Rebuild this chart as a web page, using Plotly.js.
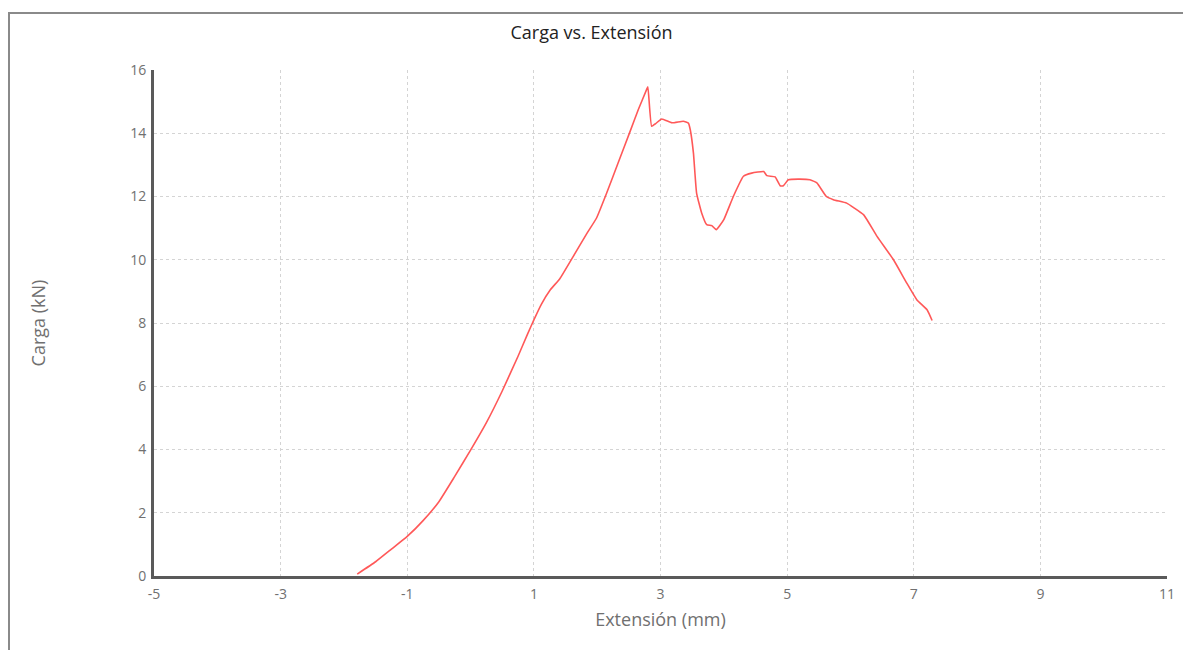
<!DOCTYPE html>
<html>
<head>
<meta charset="utf-8">
<script src="https://cdn.plot.ly/plotly-3.0.1.min.js"></script>
<style>
  html, body { margin: 0; padding: 0; background: #fff; overflow: hidden; }
  #chart { width: 1183px; height: 650px; }
  #frame { position: absolute; left: 8px; top: 12px; width: 3000px; height: 3000px;
           border: 2px solid #8a8a8a; pointer-events: none; box-sizing: border-box; }
</style>
</head>
<body>
<div id="chart"></div>
<div id="frame"></div>
<script>
const extension = [-1.79, -1.5, -1.25, -1.0, -0.75, -0.5, -0.25, 0.0, 0.25, 0.5, 0.75, 0.9, 1.0,
  1.12, 1.26, 1.41, 1.62, 1.84, 1.99, 2.15, 2.33, 2.52, 2.65, 2.78, 2.80, 2.86,
  2.92, 3.02, 3.18, 3.36, 3.44, 3.47, 3.52, 3.57, 3.65, 3.73, 3.81, 3.88, 4.0,
  4.15, 4.31, 4.44, 4.63, 4.68, 4.81, 4.89, 4.94, 5.02, 5.2, 5.36, 5.47, 5.62,
  5.73, 5.94, 6.05, 6.21, 6.42, 6.68, 6.89, 7.05, 7.21, 7.29];
const load = [0.06, 0.45, 0.85, 1.25, 1.75, 2.35, 3.15, 3.98, 4.85, 5.85, 6.95, 7.65, 8.1,
  8.6, 9.05, 9.4, 10.1, 10.84, 11.32, 12.11, 13.06, 14.06, 14.75, 15.38, 15.47, 14.22,
  14.3, 14.45, 14.33, 14.38, 14.32, 14.11, 13.38, 12.11, 11.48, 11.11, 11.08, 10.95, 11.27,
  12.0, 12.64, 12.74, 12.79, 12.66, 12.62, 12.34, 12.34, 12.53, 12.55, 12.53, 12.43, 12.0,
  11.9, 11.79, 11.65, 11.42, 10.74, 10.0, 9.26, 8.73, 8.42, 8.08];
const xTicks = [-5, -3, -1, 1, 3, 5, 7, 9, 11];
const yTicks = [0, 2, 4, 6, 8, 10, 12, 14, 16];

const trace = {
  x: extension, y: load, type: 'scatter', mode: 'lines',
  line: { color: 'rgba(255,70,70,0.9)', width: 1.6, shape: 'spline', smoothing: 0.4 },
  hoverinfo: 'x+y'
};

const axisCommon = {
  showgrid: true, gridcolor: '#d4d4d4', griddash: 'dot', gridwidth: 1,
  zeroline: false, showline: true, linecolor: '#5a5a5a', linewidth: 3,
  ticks: '', tickfont: { family: 'Open Sans, sans-serif', size: 14, color: '#707070' },
  fixedrange: true
};

const layout = {
  width: 1183, height: 650,
  margin: { l: 154, r: 16, t: 70, b: 74 },
  paper_bgcolor: '#fff', plot_bgcolor: '#fff',
  showlegend: false,
  title: { text: 'Carga vs. Extensión', x: 0.5, xanchor: 'center', y: 0.949, yanchor: 'middle',
           font: { family: 'Open Sans, sans-serif', size: 18, color: '#222' } },
  xaxis: Object.assign({}, axisCommon, {
    range: [-5, 11], tickmode: 'array', tickvals: xTicks, ticktext: xTicks.map(String),
    ticklabelstandoff: 3,
    title: { text: 'Extensión (mm)', standoff: 12, font: { family: 'Open Sans, sans-serif', size: 18, color: '#707070' } }
  }),
  yaxis: Object.assign({}, axisCommon, {
    range: [0, 16], tickmode: 'array', tickvals: yTicks, ticktext: yTicks.map(String),
    ticklabelstandoff: 2,
    title: { text: 'Carga (kN)', standoff: 80, font: { family: 'Open Sans, sans-serif', size: 18, color: '#707070' } }
  })
};

Plotly.newPlot('chart', [trace], layout, { displayModeBar: false, staticPlot: true });
</script>
</body>
</html>
